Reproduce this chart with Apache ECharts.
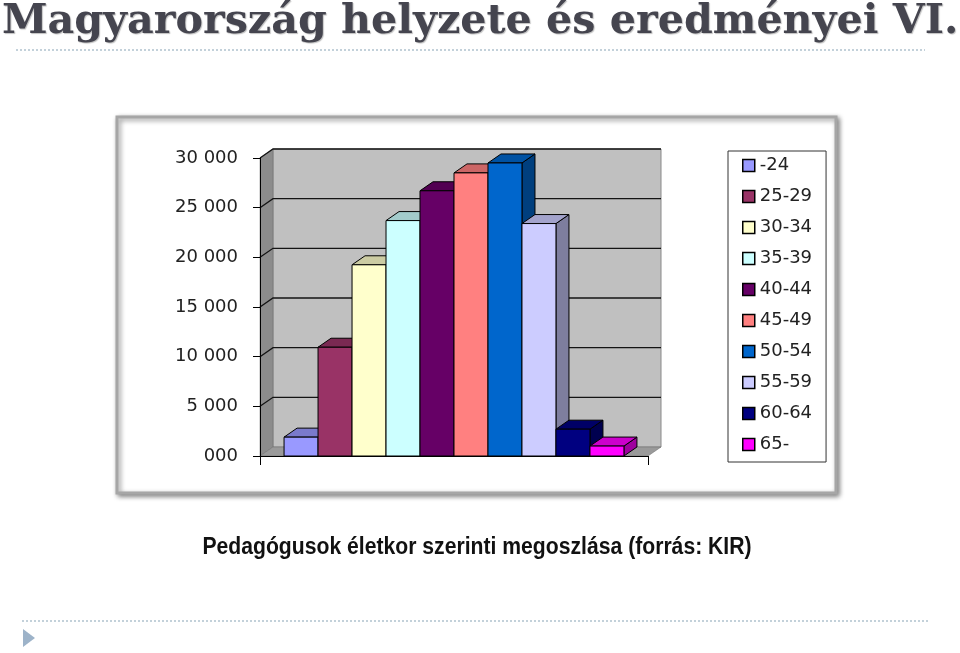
<!DOCTYPE html>
<html>
<head>
<meta charset="utf-8">
<script src="https://cdn.jsdelivr.net/npm/echarts@6.0.0/dist/echarts.min.js"></script>
<style>
  html, body { margin: 0; padding: 0; background: #fff; }
  #chart { width: 960px; height: 653px; }
</style>
</head>
<body>
<div id="chart"></div>
<script>
// age groups and teacher counts
const ageGroups = ['-24', '25-29', '30-34', '35-39', '40-44', '45-49', '50-54', '55-59', '60-64', '65-'];
const teachers = [1900, 10950, 19250, 23700, 26700, 28500, 29500, 23400, 2700, 1000];
const barColors = ['#9999ff', '#993366', '#ffffcc', '#ccffff', '#660066', '#ff8080', '#0066cc', '#ccccff', '#000080', '#ff00ff'];

const yTicks = [0, 5000, 10000, 15000, 20000, 25000, 30000];
const yTickLabels = ['000', '5 000', '10 000', '15 000', '20 000', '25 000', '30 000'];

// 3D depth of the Excel-style chart
const DX = 13;
const DY = -9;
const INNER = 0.876; // share of the band covered by the bars

const shade = (hex, k) => {
  const n = parseInt(hex.slice(1), 16);
  const r = Math.round(((n >> 16) & 255) * k);
  const g = Math.round(((n >> 8) & 255) * k);
  const b = Math.round((n & 255) * k);
  return 'rgb(' + r + ',' + g + ',' + b + ')';
};

const chart = echarts.init(document.getElementById('chart'));

// back wall, side wall, floor and gridlines
const wallSeries = {
  type: 'custom',
  name: 'walls',
  z: 1,
  silent: true,
  data: yTicks.map((v) => [0, v]),
  renderItem: (params, api) => {
    const cs = params.coordSys;
    const p = api.coord([0, api.value(1)]);
    const y = p[1];
    const x0 = cs.x;
    const x1 = cs.x + cs.width;
    const yb = cs.y + cs.height;
    const children = [];
    if (params.dataIndex === 0) {
      children.push({
        type: 'polygon',
        z2: 0,
        shape: { points: [[x0 + DX, cs.y + DY], [x1 + DX, cs.y + DY], [x1 + DX, yb + DY], [x0 + DX, yb + DY]] },
        style: { fill: '#c0c0c0', stroke: '#8a8a8a', lineWidth: 1 },
      });
      children.push({
        type: 'polygon',
        z2: 1,
        shape: { points: [[x0, yb], [x0, cs.y], [x0 + DX, cs.y + DY], [x0 + DX, yb + DY]] },
        style: { fill: '#8c8c8c', stroke: '#6a6a6a', lineWidth: 0.5 },
      });
      children.push({
        type: 'polygon',
        z2: 1,
        shape: { points: [[x0, yb], [x1, yb], [x1 + DX, yb + DY], [x0 + DX, yb + DY]] },
        style: { fill: '#9a9a9a', stroke: '#6a6a6a', lineWidth: 0.5 },
      });
    }
    if (params.dataIndex > 0) {
      children.push({
        type: 'polyline',
        z2: 10,
        shape: { points: [[x0, y], [x0 + DX, y + DY], [x1 + DX, y + DY]] },
        style: { stroke: '#141414', lineWidth: 1.3, fill: null },
      });
    }
    return { type: 'group', children };
  },
};

// one 3D column per age group
const barSeries = ageGroups.map((name, i) => ({
  type: 'custom',
  name,
  z: 3 + i,
  data: [[0, teachers[i]]],
  itemStyle: { color: barColors[i], borderColor: '#000', borderWidth: 1 },
  renderItem: (params, api) => {
    const base = api.coord([0, 0]);
    const top = api.coord([0, api.value(1)]);
    const band = api.size([1, 0])[0];
    const inner = band * INNER;
    const w = inner / ageGroups.length;
    const xl = base[0] - inner / 2 + i * w;
    const xr = xl + w;
    const yt = top[1];
    const yb = base[1];
    const c = barColors[i];
    const stroke = { stroke: '#000', lineWidth: 1 };
    return {
      type: 'group',
      children: [
        {
          type: 'polygon',
          shape: { points: [[xr, yt], [xr + DX, yt + DY], [xr + DX, yb + DY], [xr, yb]] },
          style: Object.assign({ fill: shade(c, 0.62) }, stroke),
        },
        {
          type: 'polygon',
          shape: { points: [[xl, yt], [xr, yt], [xr + DX, yt + DY], [xl + DX, yt + DY]] },
          style: Object.assign({ fill: shade(c, 0.8) }, stroke),
        },
        {
          type: 'rect',
          shape: { x: xl, y: yt, width: w, height: yb - yt },
          style: Object.assign({ fill: c }, stroke),
        },
      ],
    };
  },
}));

chart.setOption({
  animation: false,
  backgroundColor: '#ffffff',
  graphic: [
    {
      // chart frame with its grey shadow
      type: 'rect',
      z: -10,
      shape: { x: 117, y: 117, width: 719, height: 376 },
      style: { fill: '#ffffff', stroke: '#a6a6a6', lineWidth: 3, shadowBlur: 5, shadowOffsetX: 2, shadowOffsetY: 2, shadowColor: 'rgba(0,0,0,0.45)' },
    },
    {
      type: 'text',
      x: 2,
      y: 22,
      scaleX: 1.005,
      style: {
        text: 'Magyarország helyzete és eredményei VI.',
        font: 'bold 41px "DejaVu Serif"',
        fill: '#45454f',
        textAlign: 'left',
        textVerticalAlign: 'middle',
        textShadowColor: 'rgba(0,0,0,0.25)',
        textShadowOffsetX: 1,
        textShadowOffsetY: 1,
        textShadowBlur: 1,
      },
    },
    {
      type: 'line',
      shape: { x1: 16, y1: 50, x2: 925, y2: 50 },
      style: { stroke: '#b0c2ce', lineWidth: 1.5, lineDash: [2, 2] },
    },
    {
      type: 'line',
      shape: { x1: 22, y1: 621, x2: 928, y2: 621 },
      style: { stroke: '#b0c2ce', lineWidth: 1.5, lineDash: [2, 2] },
    },
    {
      type: 'polygon',
      shape: { points: [[23, 629], [35, 638], [23, 647]] },
      style: { fill: '#9db3c9' },
    },
    {
      type: 'text',
      x: 477,
      y: 548,
      scaleX: 0.92,
      style: {
        text: 'Pedagógusok életkor szerinti megoszlása (forrás: KIR)',
        font: 'bold 23px "Liberation Sans"',
        fill: '#111',
        textAlign: 'center',
        textVerticalAlign: 'middle',
      },
    },
  ],
  grid: {
    left: 260,
    top: 158,
    width: 388,
    height: 298,
  },
  legend: {
    orient: 'vertical',
    left: 728,
    top: 151,
    padding: [4, 14, 7, 14],
    itemGap: 10,
    itemWidth: 12,
    itemHeight: 12,
    icon: 'rect',
    borderColor: '#333',
    borderWidth: 1,
    data: ageGroups,
    itemStyle: { borderColor: '#000', borderWidth: 1.5 },
    textStyle: { fontFamily: 'DejaVu Sans', fontSize: 18, lineHeight: 21, color: '#222' },
  },
  xAxis: {
    type: 'category',
    data: ['Pedagógusok'],
    z: 20,
    axisLine: { lineStyle: { color: '#000', width: 1 } },
    axisTick: { show: true, length: 9, lineStyle: { color: '#000' } },
    axisLabel: { show: false },
    splitLine: { show: false },
  },
  yAxis: {
    type: 'value',
    min: 0,
    max: 30000,
    interval: 5000,
    z: 20,
    axisLine: { show: true, lineStyle: { color: '#000', width: 1 } },
    axisTick: { show: true, length: 7, lineStyle: { color: '#000' } },
    axisLabel: {
      margin: 22,
      fontFamily: 'DejaVu Sans',
      fontSize: 18,
      color: '#222',
      formatter: (v) => yTickLabels[yTicks.indexOf(v)],
    },
    splitLine: { show: false },
  },
  series: [wallSeries].concat(barSeries),
});
</script>
</body>
</html>
